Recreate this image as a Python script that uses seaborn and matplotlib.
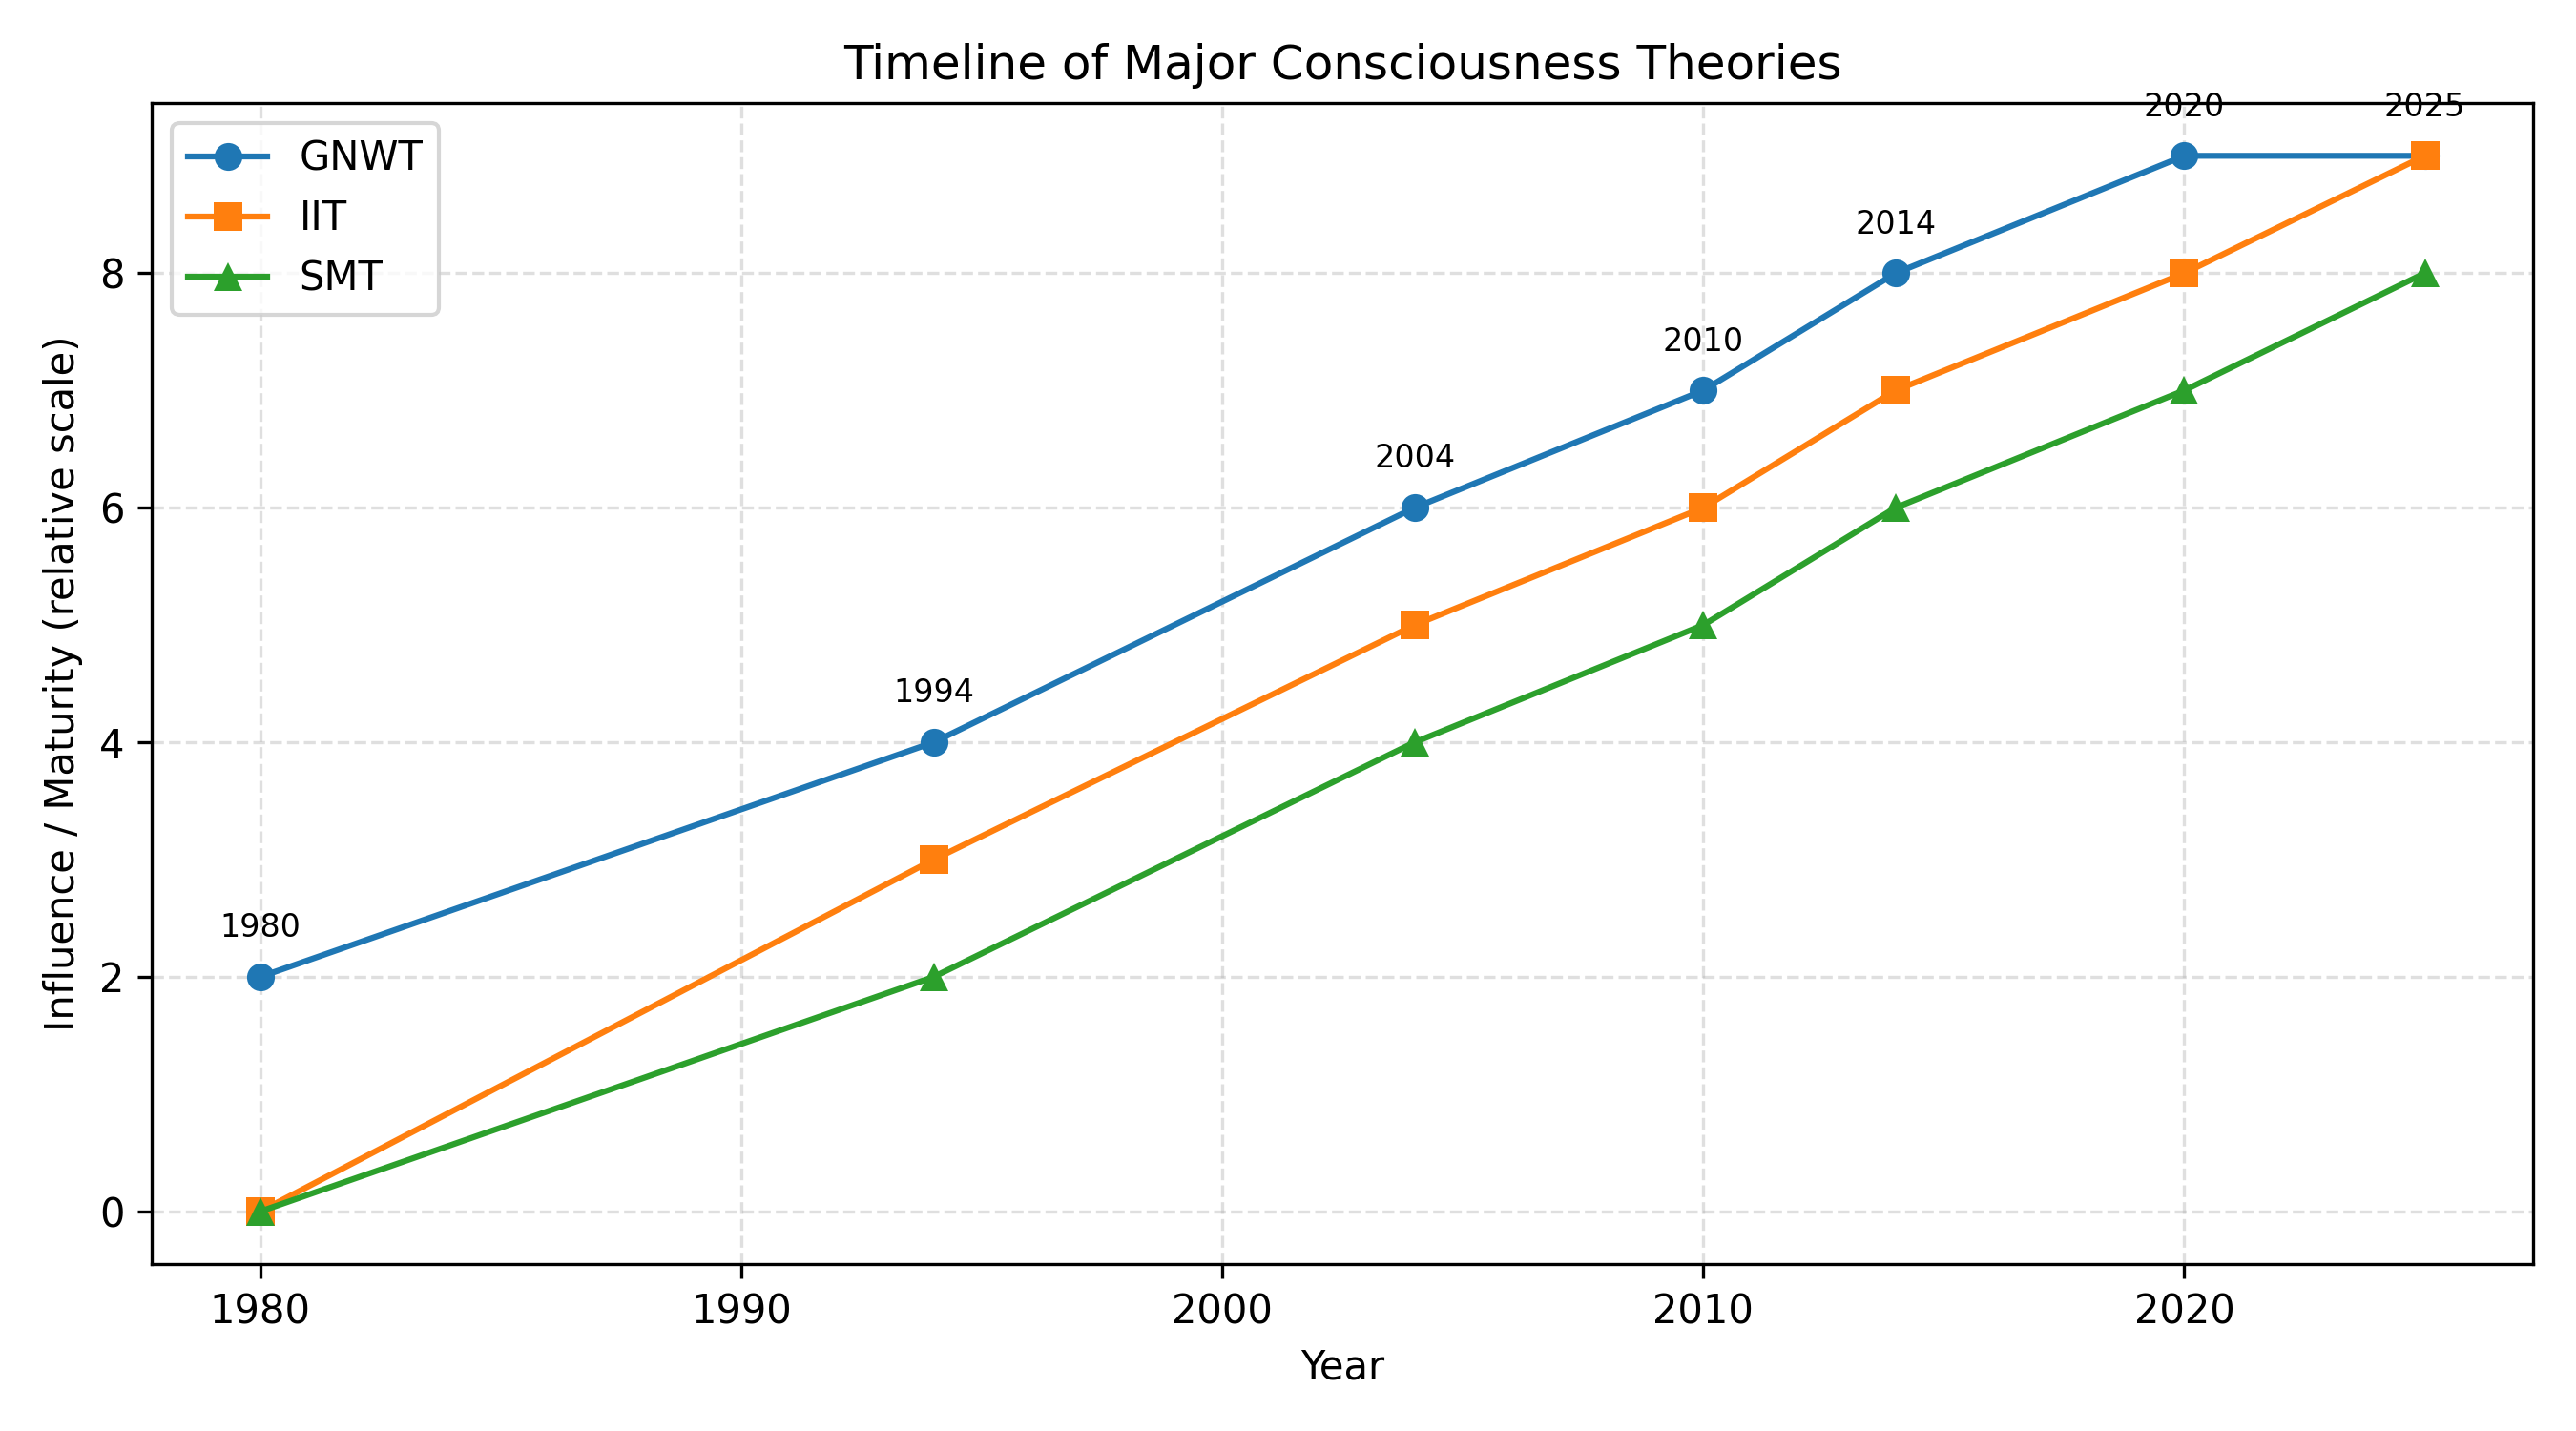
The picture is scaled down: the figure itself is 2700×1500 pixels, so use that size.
import pandas as pd
import seaborn as sns
import matplotlib.pyplot as plt

years = [1980, 1994, 2004, 2010, 2014, 2020, 2025]
gnwt = [2, 4, 6, 7, 8, 9, 9]
iit = [0, 3, 5, 6, 7, 8, 9]
smt = [0, 2, 4, 5, 6, 7, 8]

df = pd.DataFrame({'Year': years, 'GNWT': gnwt, 'IIT': iit, 'SMT': smt})

fig, ax = plt.subplots(figsize=(9, 5), dpi=300)

series = [('GNWT', 'o', '#1f77b4'), ('IIT', 's', '#ff7f0e'), ('SMT', '^', '#2ca02c')]
for name, mk, col in series:
    sns.lineplot(data=df, x='Year', y=name, marker=mk, color=col, label=name,
                 markersize=7, markeredgewidth=0, linewidth=1.5, ax=ax)

for x, y in zip(years, gnwt):
    ax.annotate(str(x), (x, y), textcoords='offset points', xytext=(0, 10),
                ha='center', fontsize=8)

ax.set_title('Timeline of Major Consciousness Theories')
ax.set_xlabel('Year')
ax.set_ylabel('Influence / Maturity (relative scale)')
ax.grid(True, linestyle='--', alpha=0.4)
ax.legend(loc='upper left')

plt.tight_layout()
plt.savefig('out.png', dpi=300)
